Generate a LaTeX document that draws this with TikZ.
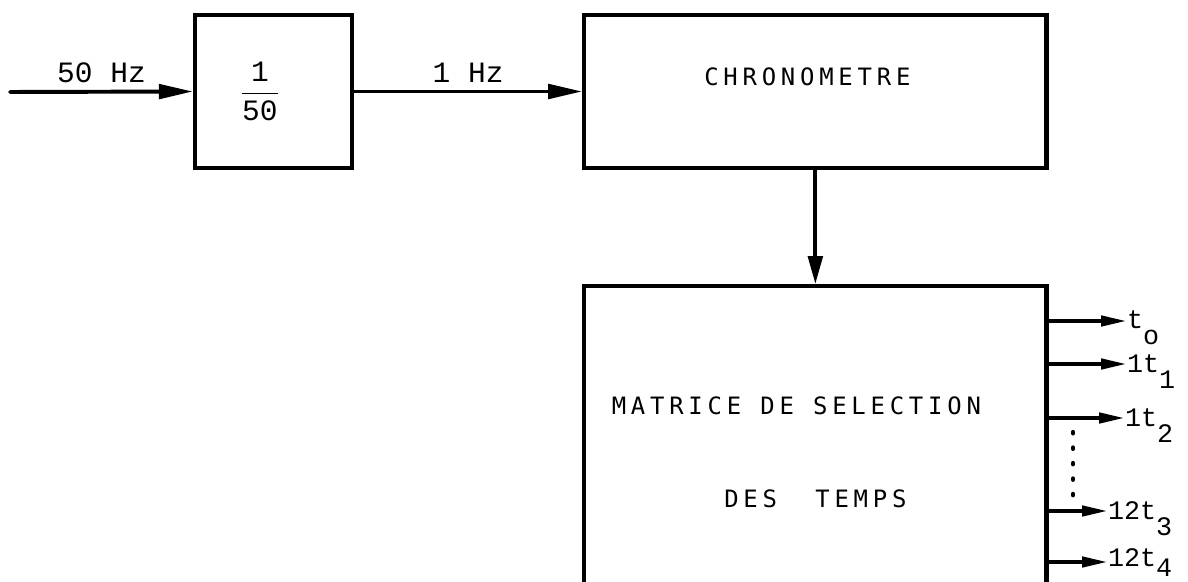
\documentclass[tikz,border=0pt]{standalone}
\usepackage{fontspec}
\newfontfamily\boxfont{DejaVu Sans Mono}[LetterSpace=20]
\newfontfamily\typefont{Liberation Mono}
\usetikzlibrary{arrows.meta, positioning}
\newcommand{\lowsub}[1]{\raisebox{-0.62em}{#1}}

\begin{document}
\begin{tikzpicture}[
            x=0.025cm, y=-0.025cm,
            node distance=2cm,
            block/.style={
                    rectangle,
                    draw,
                    line width=3pt,
                    minimum height=3.825cm,
                    inner sep=0pt
                },
            boxtext/.style={
                    font=\boxfont\fontsize{17pt}{20pt}\selectfont
                },
            lbl/.style={
                    font=\typefont\fontsize{21pt}{24pt}\selectfont,
                    inner sep=1pt
                },
            outlbl/.style={
                    font=\typefont\fontsize{19pt}{22pt}\selectfont,
                    inner sep=0.5pt,
                    anchor=base west
                },
            arrow/.style={
            -{Triangle[length=0.85cm,width=0.36cm]},
            line width=2.8pt
            },
            outarrow/.style={
            -{Triangle[length=0.62cm,width=0.26cm]},
            line width=2.3pt
            }
            ]

            \useasboundingbox (0,0) rectangle (1188,582);

            % Blocs
            \node (div) [block, minimum width=3.925cm] at (273.5,91.5) {};

            \node (chrono) [block, minimum width=11.55cm, right=5.7cm of div] {};

            \node (selection) [block, minimum width=11.55cm, minimum height=12cm, below=2.85cm of chrono] {};

            % Textes des blocs
            \node (frac) [lbl] at ([xshift=-0.34cm]div.center) {$\displaystyle\frac{\mbox{1}}{\mbox{50}}$};

            \node (chronotxt) [boxtext] at ([xshift=-0.2cm, yshift=0.36cm]chrono.center) {CHRONOMETRE};

            \node (seltxt) [boxtext] at ([xshift=-0.475cm, yshift=-3.03cm]selection.north) {MATRICE DE SELECTION};

            \node (temptxt) [boxtext] at ([yshift=-5.375cm]selection.north) {DES\ \ TEMPS};

            % Entree et liaisons
            \coordinate (in) at (10,92);

            \draw [arrow, line cap=round] (in) -- node (hz50) [lbl, above=4pt] {50 Hz} (div.west);
            \draw [arrow] (div) -- node (hz1) [lbl, above=4pt] {1 Hz} (chrono);
            \draw [arrow, -{Triangle[length=0.7cm,width=0.36cm]}] (chrono) -- (selection);

            % Sorties
            \coordinate (s0) at (1126,321);
            \coordinate (s1) at (1126,364);
            \coordinate (s2) at (1124,418);
            \coordinate (s3) at (1107,511);
            \coordinate (s4) at (1107,562);

            \draw [outarrow] (selection.east |- s0) -- (s0);
            \draw [outarrow] (selection.east |- s1) -- (s1);
            \draw [outarrow] (selection.east |- s2) -- (s2);
            \draw [outarrow] (selection.east |- s3) -- (s3);
            \draw [outarrow] (selection.east |- s4) -- (s4);

            \node (t0) [outlbl] at ([yshift=-0.18cm]s0) {t\lowsub{o}};
            \node (t1) [outlbl] at ([yshift=-0.2cm]s1) {1t\lowsub{1}};
            \node (t2) [outlbl] at ([yshift=-0.2cm]s2) {1t\lowsub{2}};
            \node (t3) [outlbl] at ([yshift=-0.2cm]s3) {12t\lowsub{3}};
            \node (t4) [outlbl] at ([yshift=-0.1cm]s4) {12t\raisebox{-0.38em}{4}};

            % Pointilles
            \draw [line width=3pt, line cap=round, dash pattern=on 1pt off 10pt] (1073,432) -- (1073,503);

        \end{tikzpicture}
\end{document}
